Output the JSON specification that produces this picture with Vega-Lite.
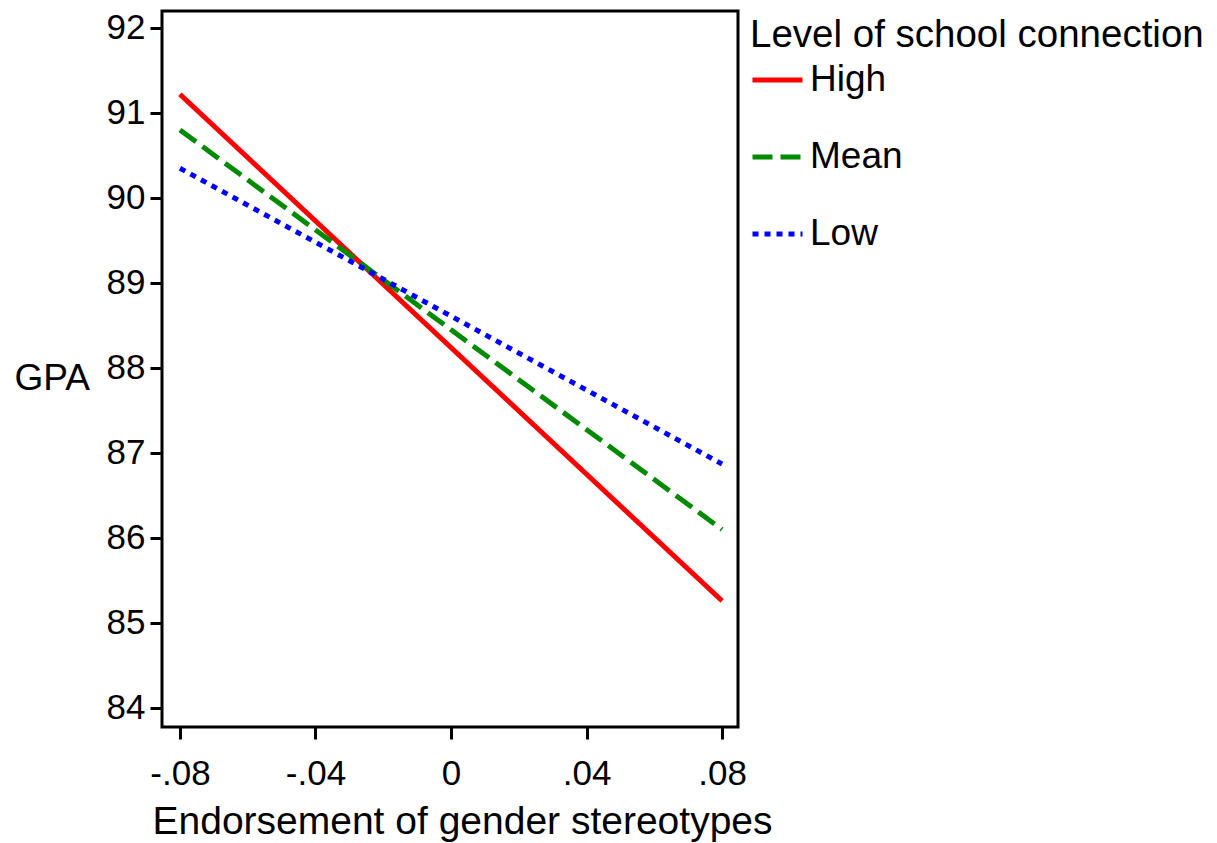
{
  "$schema": "https://vega.github.io/schema/vega-lite/v6.json",
  "width": 576,
  "height": 716,
  "autosize": {"type": "none"},
  "padding": {"left": 162, "top": 11, "right": 479, "bottom": 116},
  "background": "white",
  "config": {
    "font": "Liberation Sans",
    "view": {"stroke": "black", "strokeWidth": 3},
    "axis": {"domain": false, "grid": false, "tickColor": "black", "tickWidth": 3, "tickSize": 12, "labelColor": "black", "titleColor": "black", "labelFont": "Liberation Sans", "titleFont": "Liberation Sans", "titleFontWeight": "normal"},
    "legend": {"titleFont": "Liberation Sans", "labelFont": "Liberation Sans", "titleFontWeight": "normal", "titleColor": "black", "labelColor": "black"}
  },
  "data": {
    "values": [
      {"level": "High", "x": -0.08, "gpa": 91.22},
      {"level": "High", "x": 0.08, "gpa": 85.26},
      {"level": "Mean", "x": -0.08, "gpa": 90.8},
      {"level": "Mean", "x": 0.08, "gpa": 86.1},
      {"level": "Low", "x": -0.08, "gpa": 90.35},
      {"level": "Low", "x": 0.08, "gpa": 86.87}
    ]
  },
  "mark": {"type": "line", "strokeWidth": 5, "strokeCap": "butt"},
  "encoding": {
    "x": {
      "field": "x", "type": "quantitative",
      "scale": {"domain": [-0.0853, 0.0847], "nice": false, "zero": false},
      "axis": {
        "values": [-0.08, -0.04, 0, 0.04, 0.08],
        "labelExpr": "datum.value < -0.06 ? '-.08' : datum.value < -0.02 ? '-.04' : datum.value < 0.02 ? '0' : datum.value < 0.06 ? '.04' : '.08'",
        "labelFontSize": 35, "labelPadding": 17,
        "title": "Endorsement of gender stereotypes",
        "titleFontSize": 39, "titlePadding": 11,
        "titleX": 300, "titleAlign": "center"
      }
    },
    "y": {
      "field": "gpa", "type": "quantitative",
      "scale": {"domain": [83.776, 92.2], "nice": false, "zero": false},
      "axis": {
        "values": [84, 85, 86, 87, 88, 89, 90, 91, 92],
        "format": "d",
        "labelFontSize": 35, "labelPadding": 5,
        "title": "GPA", "titleFontSize": 37, "titleAngle": 0,
        "titleAlign": "left", "titleBaseline": "middle",
        "titleX": -148, "titleY": 367
      }
    },
    "color": {
      "field": "level", "type": "nominal",
      "scale": {"domain": ["High", "Mean", "Low"], "range": ["#ff0000", "#008a00", "#0000ff"]},
      "legend": {
        "title": "Level of school connection",
        "orient": "none", "legendX": 588, "legendY": 6, "padding": 0,
        "titleFontSize": 38.5, "labelFontSize": 37, "titlePadding": -3,
        "titleLimit": 700, "labelLimit": 400,
        "symbolType": "stroke", "symbolSize": 2500, "symbolStrokeWidth": 5,
        "rowPadding": 31, "labelOffset": 5
      }
    },
    "strokeDash": {
      "field": "level", "type": "nominal",
      "scale": {"domain": ["High", "Mean", "Low"], "range": [[1, 0], [20, 8], [6, 6]]},
      "legend": {
        "title": "Level of school connection"
      }
    }
  }
}
